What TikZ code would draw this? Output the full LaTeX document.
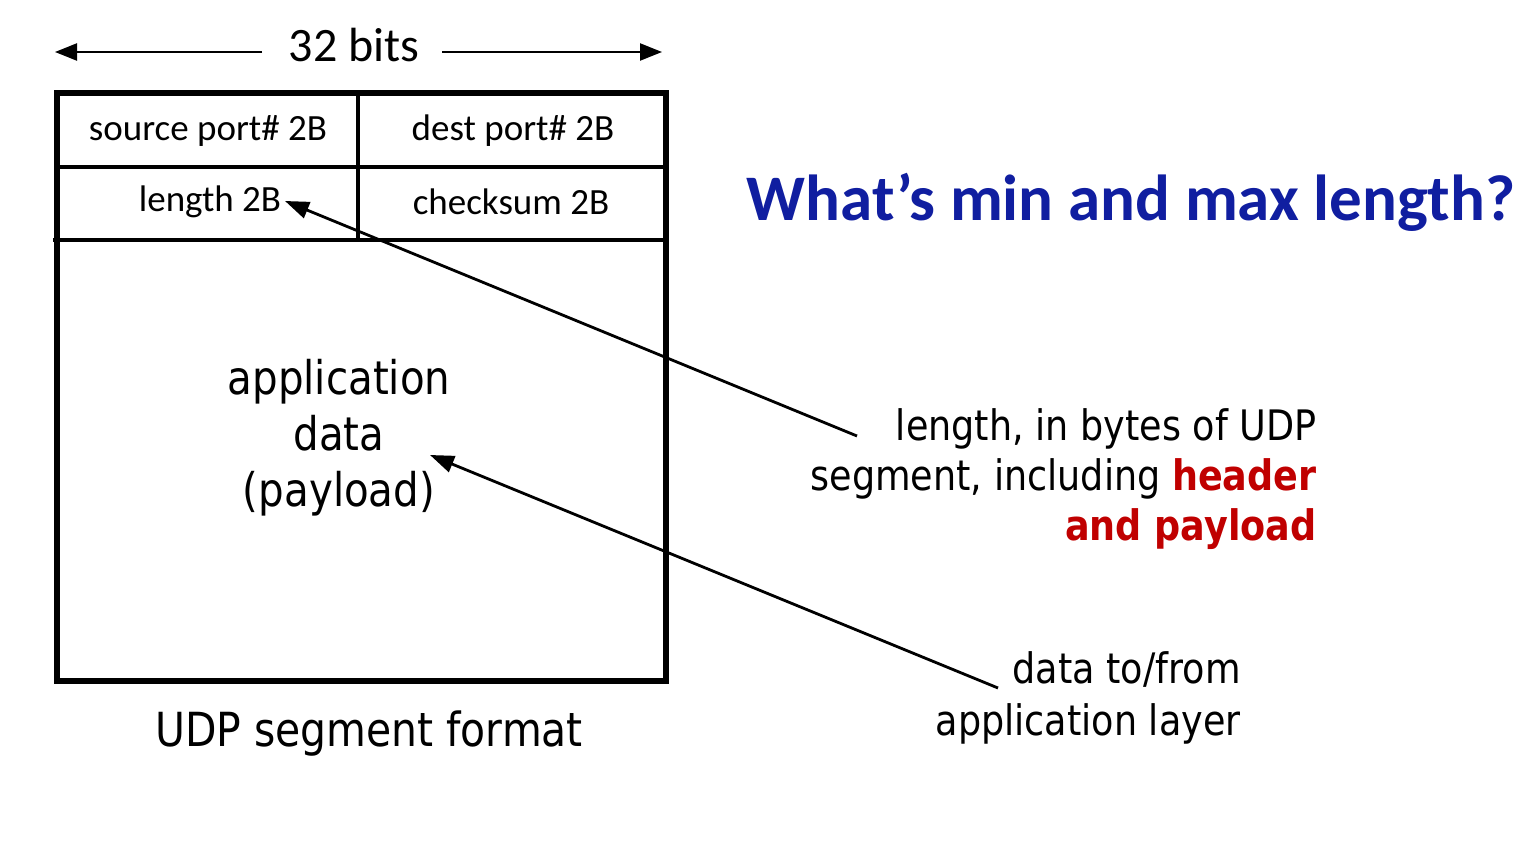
\documentclass[tikz,border=0pt]{standalone}
\usepackage{fontspec}
\usetikzlibrary{arrows.meta}
\newfontfamily\tahfont[FakeStretch=0.87]{DejaVu Sans}
\newfontfamily\calfont{Carlito}
\definecolor{titleblue}{RGB}{16,30,160}
\definecolor{hred}{RGB}{192,0,0}
\tikzset{
  arr/.style={line width=1.4pt,-{Triangle[length=12pt,width=8.5pt]}},
  dimarr/.style={line width=1.15pt,-{Triangle[length=11pt,width=8.5pt]}},
  hdr/.style={font=\calfont\fontsize{18.5}{22}\selectfont,inner sep=0pt},
  thick box/.style={line width=3pt},
  thin rule/.style={line width=1.6pt},
}
\begin{document}
\begin{tikzpicture}[x=0.5pt,y=-0.5pt]
\useasboundingbox (0,0) rectangle (1534,840);
% box
\draw[thick box] (57,93.5) rectangle (666,681);
\draw[thin rule] (57,167) -- (666,167);
\draw[thin rule] (53,240) -- (666,240);
\draw[thin rule] (358,93.5) -- (358,240);
% header cells
\node[hdr] (src) at (208,131) {source port\# 2B};
\node[hdr] (dst) at (513,131) {dest port\# 2B};
\node[hdr] (len) at (210,202) {length 2B};
\node[hdr] (chk) at (511,202) {checksum 2B};
% 32 bits
\node[font=\calfont\fontsize{24}{28}\selectfont,inner sep=0pt] (bits) at (354,45) {32 bits};
\coordinate (bl0) at (262,52);
\coordinate (bl) at (55,52);
\coordinate (br0) at (442,52);
\coordinate (br) at (662,52);
\draw[dimarr] (bl0) -- (bl);
\draw[dimarr] (br0) -- (br);
% title
\node[font=\calfont\bfseries\fontsize{32.5}{36}\selectfont,text=titleblue,inner sep=0pt] (q) at (1131,202) {What’s min and max length?};
% payload
\node[font=\tahfont\fontsize{23.2}{28}\selectfont,align=center,inner sep=0pt] (app) at (339,438) {application\\data\\(payload)};
\node[font=\tahfont\fontsize{23.5}{28}\selectfont,inner sep=0pt] (fmt) at (369,734) {UDP segment format};
% right labels
\node[font=\tahfont\fontsize{21}{25}\selectfont,align=right,anchor=east,inner sep=0pt] (lenlbl) at (1317,479)
  {length, in bytes of UDP\\segment, including \textcolor{hred}{\bfseries header}\\\textcolor{hred}{\bfseries and payload}};
\node[font=\tahfont\fontsize{21}{26}\selectfont,align=right,anchor=east,inner sep=0pt] (datalbl) at (1241,698)
  {data to/from\\application layer};
% arrows
\coordinate (a1) at (857,436);
\coordinate (t1) at (285,201);
\coordinate (a2) at (998,688);
\coordinate (t2) at (430,455);
\draw[arr] (a1) -- (t1);
\draw[arr] (a2) -- (t2);
\end{tikzpicture}
\end{document}
